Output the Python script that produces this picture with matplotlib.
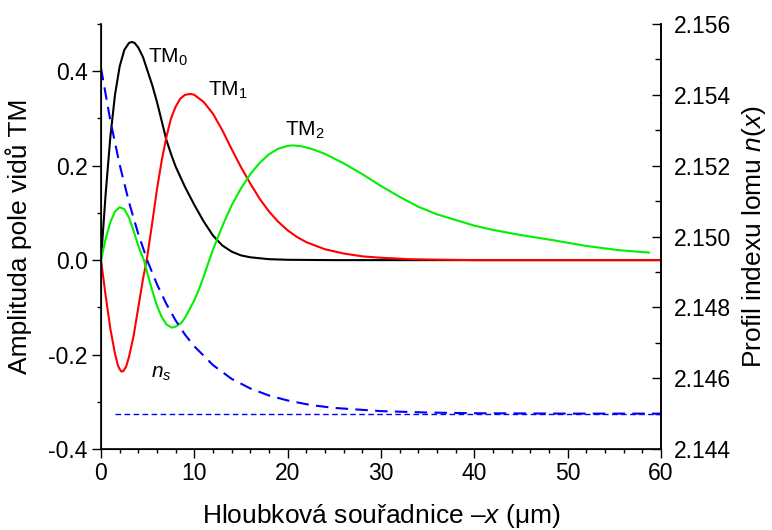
import matplotlib
matplotlib.use('Agg')
import matplotlib.pyplot as plt
import numpy as np
from matplotlib.ticker import MultipleLocator

plt.rcParams['font.family'] = ['Liberation Sans', 'DejaVu Sans']
plt.rcParams['mathtext.fontset'] = 'custom'
plt.rcParams['mathtext.rm'] = 'Liberation Sans'
plt.rcParams['mathtext.it'] = 'Liberation Sans:italic'

# mod TM0
x_tm0 = [0, 0.5, 1.0, 1.5, 2.0, 2.5, 3.0, 3.3, 3.6, 4.0, 4.5, 5.0, 5.5, 6.0, 6.5, 7.0, 7.5, 8.0,
         9.0, 10.0, 11.0, 12.0, 13.0, 14.0, 15.0, 16.0, 18.0, 20.0, 25.0, 60.0]
tm0 = [0, 0.14, 0.26, 0.35, 0.41, 0.445, 0.46, 0.462, 0.46, 0.45, 0.43, 0.40, 0.37, 0.335, 0.295,
       0.255, 0.225, 0.198, 0.155, 0.117, 0.082, 0.052, 0.031, 0.018, 0.010, 0.006, 0.002, 0.0007,
       0.0, 0.0]

# mod TM1
x_tm1 = [0, 0.5, 1.0, 1.5, 1.8, 2.0, 2.2, 2.4, 2.7, 3.0, 3.5, 4.0, 4.5, 4.9, 5.5, 6.0, 6.5, 7.0,
         7.5, 8.0, 8.5, 9.0, 9.6, 10.0, 11.0, 12.0, 13.0, 14.0, 15.0, 16.0, 17.0, 18.0, 19.0,
         20.0, 21.0, 22.0, 24.0, 26.0, 28.0, 30.0, 33.0, 36.0, 40.0, 60.0]
tm1 = [0, -0.075, -0.145, -0.198, -0.222, -0.231, -0.236, -0.235, -0.225, -0.205, -0.16, -0.10,
       -0.04, 0.0, 0.08, 0.15, 0.21, 0.26, 0.30, 0.325, 0.342, 0.35, 0.352, 0.35, 0.335, 0.31,
       0.275, 0.235, 0.197, 0.162, 0.130, 0.103, 0.081, 0.063, 0.049, 0.038, 0.023, 0.014, 0.008,
       0.005, 0.002, 0.001, 0.0, 0.0]

# mod TM2
x_tm2 = [0, 0.5, 1.0, 1.5, 2.0, 2.5, 3.0, 3.5, 4.0, 4.6, 5.0, 5.5, 6.0, 6.5, 7.0, 7.6, 8.0, 8.6,
         9.0, 9.5, 10.0, 10.5, 11.0, 11.6, 12.0, 13.0, 14.0, 15.0, 16.0, 17.0, 18.0, 19.0, 20.0,
         20.6, 21.5, 22.5, 24.0, 26.0, 28.0, 30.0, 32.0, 34.0, 36.0, 38.0, 40.0, 42.0, 45.0, 48.5,
         52.0, 55.5, 58.7]
tm2 = [0, 0.045, 0.08, 0.103, 0.112, 0.108, 0.09, 0.062, 0.03, 0.0, -0.03, -0.065, -0.097, -0.12,
       -0.136, -0.143, -0.141, -0.133, -0.122, -0.104, -0.085, -0.062, -0.035, 0.0, 0.022, 0.072,
       0.116, 0.152, 0.182, 0.206, 0.224, 0.236, 0.242, 0.243, 0.241, 0.236, 0.225, 0.205, 0.182,
       0.157, 0.134, 0.113, 0.097, 0.085, 0.073, 0.064, 0.053, 0.042, 0.030, 0.021, 0.016]

# profil indexu lomu
x_n = [0, 1, 2, 3, 4, 5, 6, 7, 8, 9, 10, 12, 14, 16, 18, 20, 22.5, 25, 30, 35, 40, 50, 60]
n_x = [2.15476, 2.15328, 2.15203, 2.15097, 2.15007, 2.1493, 2.14865, 2.1481, 2.14763, 2.14723,
       2.1469, 2.14637, 2.14598, 2.14571, 2.14551, 2.14537, 2.14524, 2.14516, 2.14507, 2.14503,
       2.14501, 2.145, 2.145]

x_ns = [1.5, 60]
ns = [2.145, 2.145]

fig = plt.figure(figsize=(7.72, 5.30), dpi=100)
ax = fig.add_axes([0.1308, 0.1528, 0.7254, 0.8019])

ax.plot(x_tm0, tm0, color='black', lw=1.5)
ax.plot(x_tm1, tm1, color='#ff0000', lw=1.5)
ax.plot(x_tm2, tm2, color='#00f000', lw=1.5)

ax.set_xlim(0, 60)
ax.set_ylim(-0.4, 0.5)
ax.xaxis.set_major_locator(MultipleLocator(10))
ax.xaxis.set_minor_locator(MultipleLocator(2))
ax.yaxis.set_major_locator(MultipleLocator(0.2))
ax.yaxis.set_minor_locator(MultipleLocator(0.1))
ax.yaxis.set_major_formatter(matplotlib.ticker.FuncFormatter(lambda v, p: '%.1f' % v))

ax.spines['top'].set_visible(False)
for s in ['left', 'bottom', 'right']:
    ax.spines[s].set_linewidth(1.2)
ax.tick_params(which='major', direction='out', length=6.5, width=1.0, labelsize=16.5, pad=3)
ax.tick_params(which='minor', direction='out', length=3.2, width=1.0)

ax.set_xlabel('Hloubková souřadnice –$x$ (μm)', fontsize=19, labelpad=12)
ax.set_ylabel('Amplituda pole vidů TM', fontsize=19, labelpad=12)

ax.text(5.0, 0.418, 'TM$_0$', fontsize=15)
ax.text(11.5, 0.348, 'TM$_1$', fontsize=15)
ax.text(19.7, 0.264, 'TM$_2$', fontsize=15)

# prava osa - index lomu
ax2 = ax.twinx()
ax2.plot(x_n, n_x, color='#0000ff', lw=1.5, linestyle=(0, (6, 3.5)))
ax2.plot(x_ns, ns, color='#0000ff', lw=1.0, linestyle=(0, (4, 2.5)))
ax2.set_ylim(2.144, 2.156)
ax2.yaxis.set_major_locator(MultipleLocator(0.002))
ax2.yaxis.set_minor_locator(MultipleLocator(0.001))
ax2.yaxis.set_major_formatter(matplotlib.ticker.FuncFormatter(lambda v, p: '%.3f' % v))
ax2.spines['top'].set_visible(False)
ax2.spines['right'].set_linewidth(1.2)
ax2.tick_params(which='major', direction='in', length=6.5, width=1.0, labelsize=16.5, pad=9)
ax2.tick_params(which='minor', direction='in', length=4.3, width=1.0)
ax2.set_ylabel('Profil indexu lomu $n(x)$', fontsize=19, labelpad=7)

ax2.text(5.4, 2.1460, '$n_s$', fontsize=15)

plt.savefig('out.png', dpi=100)
